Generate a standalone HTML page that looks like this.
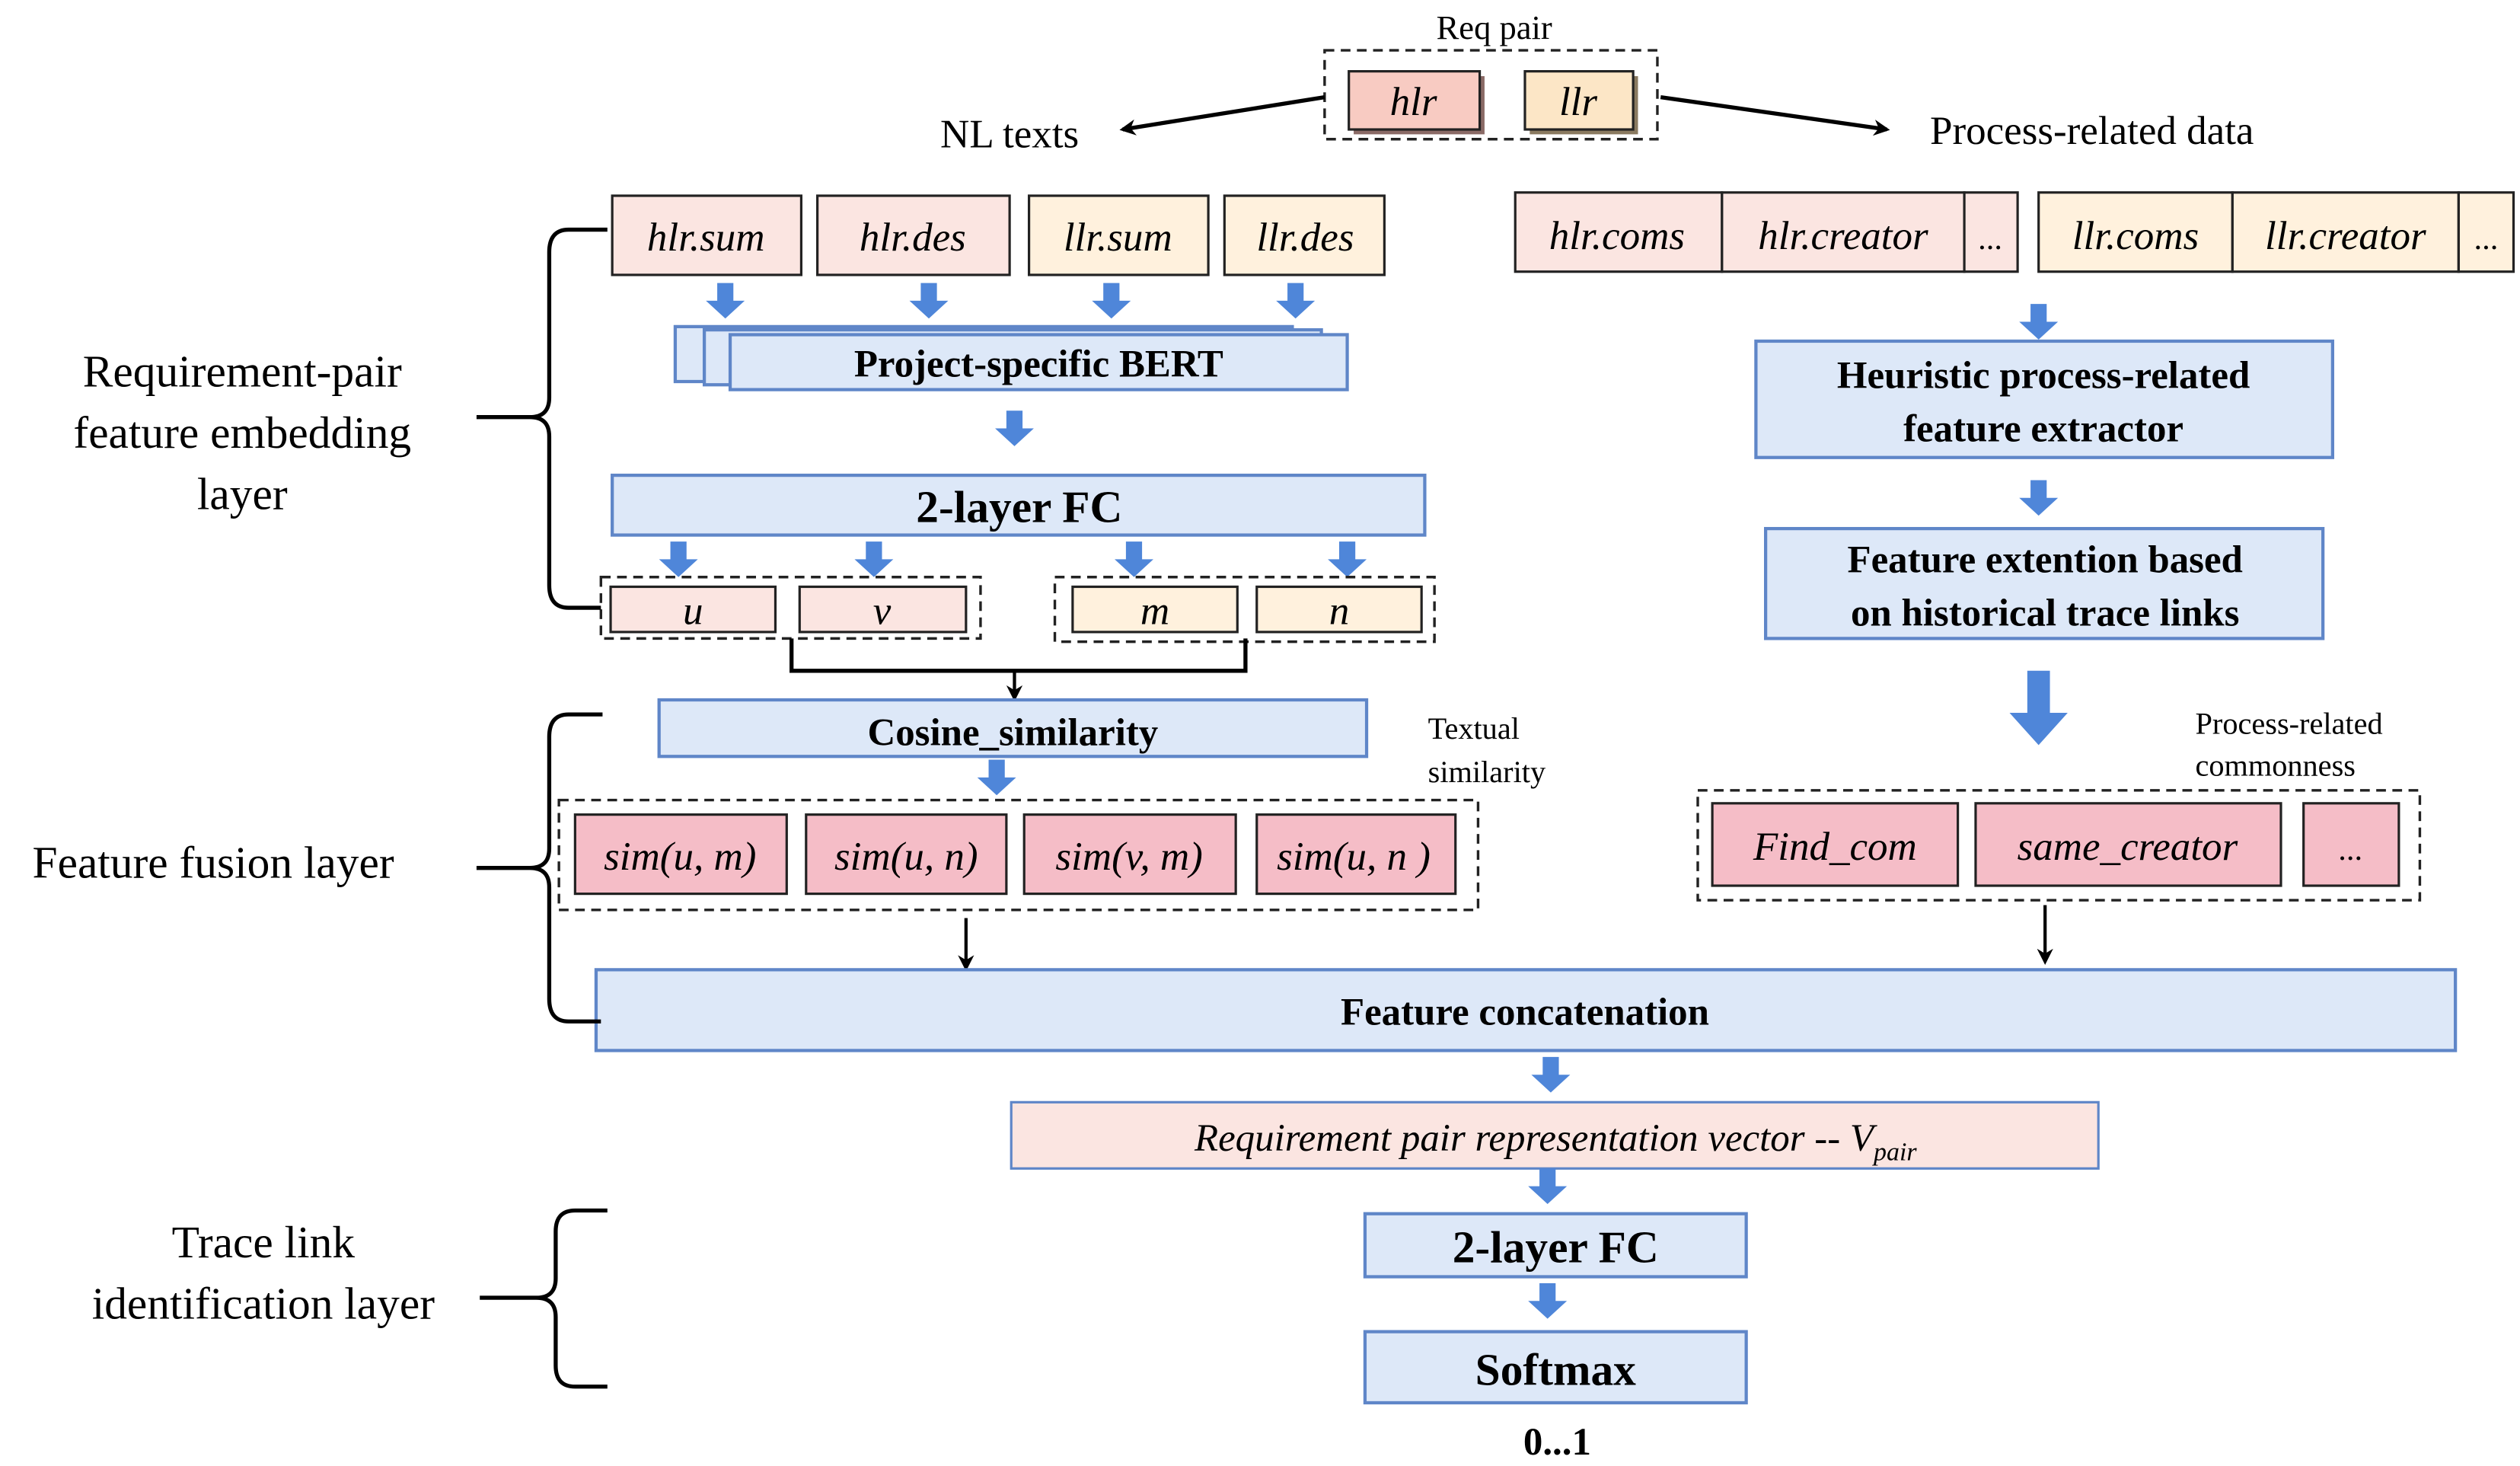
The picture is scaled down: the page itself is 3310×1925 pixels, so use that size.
<!DOCTYPE html>
<html><head><meta charset="utf-8"><style>html,body{margin:0;padding:0;background:#fff}svg{display:block}svg text{font-family:"Liberation Serif","Times New Roman",Times,"Noto Serif CJK SC","DejaVu Serif",serif}</style></head><body>
<svg width="3310" height="1925" viewBox="0 0 1560 907" xmlns="http://www.w3.org/2000/svg">
<defs>
<marker id="ah" markerWidth="10" markerHeight="10" refX="8" refY="5" orient="auto" markerUnits="userSpaceOnUse"><path d="M0,0 L10,5 L0,10 L3,5 z" fill="#000"/></marker>
<g id="ba"><path d="M-5,0 h10 v11 h7 l-12,11 l-12,-11 h7 z" fill="#4f86d9"/></g>
</defs>
<style>
.pk{fill:#fbe5e1;stroke:#222;stroke-width:1.5}
.pc{fill:#fff1dd;stroke:#222;stroke-width:1.5}
.sm{fill:#f5bdc7;stroke:#222;stroke-width:1.5}
.bl{fill:#dde8f8;stroke:#5f86c8;stroke-width:2}
.ds{fill:none;stroke:#222;stroke-width:1.6;stroke-dasharray:6,4}
.it{font-style:italic;font-size:25px;text-anchor:middle}
.bd{font-weight:bold;font-size:24px;text-anchor:middle}
.lb{font-size:28px;text-anchor:middle}
.br{fill:none;stroke:#000;stroke-width:2.5}
</style>
<text x="925" y="24" font-size="21" text-anchor="middle">Req pair</text>
<rect x="820" y="31" width="206" height="55" class="ds"/>
<rect x="838" y="47" width="81" height="36" fill="#8a6a66"/>
<rect x="835" y="44" width="81" height="36" fill="#f8cbc2" stroke="#222" stroke-width="1.5"/>
<text x="875" y="71" class="it">hlr</text>
<rect x="947" y="47" width="67" height="36" fill="#8a7a60"/>
<rect x="944" y="44" width="67" height="36" fill="#fce6c6" stroke="#222" stroke-width="1.5"/>
<text x="977" y="71" class="it">llr</text>
<line x1="820" y1="60" x2="695" y2="80" stroke="#000" stroke-width="2.5" marker-end="url(#ah)"/>
<line x1="1028" y1="60" x2="1168" y2="80" stroke="#000" stroke-width="2.5" marker-end="url(#ah)"/>
<text x="625" y="91" font-size="25" text-anchor="middle">NL texts</text>
<text x="1295" y="89" font-size="25" text-anchor="middle">Process-related  data</text>
<rect x="379" y="121" width="117" height="49" class="pk"/><text x="437" y="155" class="it">hlr.sum</text>
<rect x="506" y="121" width="119" height="49" class="pk"/><text x="565" y="155" class="it">hlr.des</text>
<rect x="637" y="121" width="111" height="49" class="pc"/><text x="692" y="155" class="it">llr.sum</text>
<rect x="758" y="121" width="99" height="49" class="pc"/><text x="808" y="155" class="it">llr.des</text>
<rect x="938" y="119" width="128" height="49" class="pk"/><text x="1001" y="154" class="it">hlr.coms</text>
<rect x="1066" y="119" width="150" height="49" class="pk"/><text x="1141" y="154" class="it">hlr.creator</text>
<rect x="1216" y="119" width="33" height="49" class="pk"/><text x="1232" y="154" font-size="20" text-anchor="middle">...</text>
<rect x="1262" y="119" width="120" height="49" class="pc"/><text x="1322" y="154" class="it">llr.coms</text>
<rect x="1382" y="119" width="140" height="49" class="pc"/><text x="1452" y="154" class="it">llr.creator</text>
<rect x="1522" y="119" width="34" height="49" class="pc"/><text x="1539" y="154" font-size="20" text-anchor="middle">...</text>
<use href="#ba" x="449" y="175"/><use href="#ba" x="575" y="175"/><use href="#ba" x="688" y="175"/><use href="#ba" x="802" y="175"/>
<rect x="418" y="202" width="382" height="34" class="bl"/>
<rect x="436" y="204" width="382" height="34" class="bl"/>
<rect x="452" y="207" width="382" height="34" class="bl"/>
<text x="643" y="233" class="bd">Project-specific BERT</text>
<use href="#ba" x="628" y="254"/>
<rect x="379" y="294" width="503" height="37" class="bl"/>
<text x="631" y="323" font-weight="bold" font-size="28" text-anchor="middle">2-layer FC</text>
<use href="#ba" x="420" y="335"/><use href="#ba" x="541" y="335"/><use href="#ba" x="702" y="335"/><use href="#ba" x="834" y="335"/>
<rect x="372" y="357" width="235" height="38" class="ds"/>
<rect x="378" y="363" width="102" height="28" class="pk"/><text x="429" y="386" class="it" font-size="22">u</text>
<rect x="495" y="363" width="103" height="28" class="pk"/><text x="546" y="386" class="it" font-size="22">v</text>
<rect x="653" y="357" width="235" height="40" class="ds"/>
<rect x="664" y="363" width="102" height="28" class="pc"/><text x="715" y="386" class="it" font-size="22">m</text>
<rect x="778" y="363" width="102" height="28" class="pc"/><text x="829" y="386" class="it" font-size="22">n</text>
<path d="M490,395 V415 H771 V395" fill="none" stroke="#000" stroke-width="2.5"/>
<line x1="628" y1="415" x2="628" y2="432" stroke="#000" stroke-width="2" marker-end="url(#ah)"/>
<rect x="408" y="433" width="438" height="35" class="bl"/>
<text x="627" y="461" class="bd">Cosine_similarity</text>
<text x="884" y="457" font-size="19">Textual</text>
<text x="884" y="484" font-size="19">similarity</text>
<use href="#ba" x="617" y="470"/>
<rect x="346" y="495" width="569" height="68" class="ds"/>
<rect x="356" y="504" width="131" height="49" class="sm"/><text x="421" y="538" class="it">sim(u, m)</text>
<rect x="499" y="504" width="124" height="49" class="sm"/><text x="561" y="538" class="it">sim(u, n)</text>
<rect x="634" y="504" width="131" height="49" class="sm"/><text x="699" y="538" class="it">sim(v, m)</text>
<rect x="778" y="504" width="123" height="49" class="sm"/><text x="838" y="538" class="it">sim(u, n )</text>
<line x1="598" y1="568" x2="598" y2="599" stroke="#000" stroke-width="2" marker-end="url(#ah)"/>
<use href="#ba" x="1262" y="188"/>
<rect x="1087" y="211" width="357" height="72" class="bl"/>
<text x="1265" y="240" class="bd">Heuristic process-related</text>
<text x="1265" y="273" class="bd">feature extractor</text>
<use href="#ba" x="1262" y="297"/>
<rect x="1093" y="327" width="345" height="68" class="bl"/>
<text x="1266" y="354" class="bd">Feature extention based</text>
<text x="1266" y="387" class="bd">on historical trace links</text>
<path d="M1255,415 h14 v26 h11 l-18,20 l-18,-20 h11 z" fill="#4f86d9"/>
<text x="1359" y="454" font-size="19">Process-related</text>
<text x="1359" y="480" font-size="19">commonness</text>
<rect x="1051" y="489" width="447" height="68" class="ds"/>
<rect x="1060" y="497" width="152" height="51" class="sm"/><text x="1136" y="532" class="it">Find_com</text>
<rect x="1223" y="497" width="189" height="51" class="sm"/><text x="1317" y="532" class="it">same_creator</text>
<rect x="1426" y="497" width="59" height="51" class="sm"/><text x="1455" y="532" font-size="20" text-anchor="middle">...</text>
<line x1="1266" y1="560" x2="1266" y2="595" stroke="#000" stroke-width="2" marker-end="url(#ah)"/>
<rect x="369" y="600" width="1151" height="50" class="bl"/>
<text x="944" y="634" class="bd">Feature concatenation</text>
<use href="#ba" x="960" y="654"/>
<rect x="626" y="682" width="673" height="41" fill="#fbe5e1" stroke="#5f86c8" stroke-width="1.5"/>
<text x="963" y="712" font-style="italic" font-size="24" text-anchor="middle">Requirement pair representation vector -- V<tspan font-size="16" dy="6">pair</tspan></text>
<use href="#ba" x="958" y="723"/>
<rect x="845" y="751" width="236" height="39" class="bl"/>
<text x="963" y="781" font-weight="bold" font-size="28" text-anchor="middle">2-layer FC</text>
<use href="#ba" x="958" y="794"/>
<rect x="845" y="824" width="236" height="44" class="bl"/>
<text x="963" y="857" font-weight="bold" font-size="28" text-anchor="middle">Softmax</text>
<text x="964" y="900" font-weight="bold" font-size="24" text-anchor="middle">0...1</text>
<text x="150" y="239" class="lb">Requirement-pair</text>
<text x="150" y="277" class="lb">feature embedding</text>
<text x="150" y="315" class="lb">layer</text>
<path class="br" d="M376,142 H352 Q340,142 340,156 V246 Q340,258 328,258 H295 M328,258 Q340,258 340,270 V362 Q340,376 352,376 H372"/>
<text x="132" y="543" class="lb">Feature fusion layer</text>
<path class="br" d="M373,442 H352 Q340,442 340,456 V525 Q340,537 328,537 H295 M328,537 Q340,537 340,549 V618 Q340,632 352,632 H372"/>
<text x="163" y="778" class="lb">Trace link</text>
<text x="163" y="816" class="lb">identification layer</text>
<path class="br" d="M376,749 H356 Q344,749 344,762 V791 Q344,803 332,803 H297 M332,803 Q344,803 344,815 V845 Q344,858 356,858 H376"/>
</svg>
</body></html>
